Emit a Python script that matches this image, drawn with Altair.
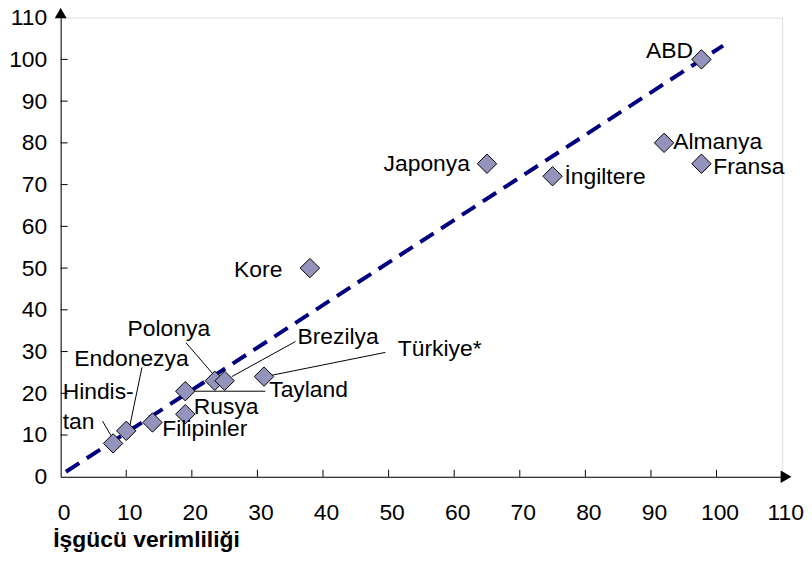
import altair as alt
import pandas as pd

# ---- data ----
countries = ["Hindistan", "Endonezya", "Filipinler", "Rusya", "Tayland", "Polonya",
             "Brezilya", "Türkiye*", "Kore", "Japonya", "İngiltere", "Almanya",
             "Fransa", "ABD"]
productivity = [8, 10, 14, 19, 19, 23.5, 25, 31, 38, 65, 75, 92, 97.7, 97.7]
income = [8, 11, 13, 15, 20.5, 23, 23, 24, 50, 75, 72, 80, 75, 100]

# trend line (dashed) end points
trend_x = [0.8, 101]
trend_y = [1.2, 103.3]

# labels (annotation anchors in data units)
label_text = ["ABD", "Almanya", "Fransa", "Japonya", "İngiltere", "Kore", "Polonya",
              "Brezilya", "Türkiye*", "Tayland", "Rusya", "Filipinler", "Endonezya",
              "Hindis-", "tan"]
label_x = [96.4, 93.4, 99.5, 62.4, 76.8, 33.8, 16.5, 36.1, 51.4, 31.8, 20.3, 15.5, 10.8, 0.3, 0.3]
label_y = [102.0, 80.3, 74.3, 74.9, 71.8, 49.6, 35.4, 33.5, 30.5, 20.7, 16.8, 11.4, 28.1, 20.4, 13.2]
label_align = ["right", "left", "left", "right", "left", "right", "center", "left", "left",
               "left", "left", "left", "center", "left", "left"]

# leader lines
leader_x1 = [6.4, 12.4, 19.1, 26.1, 32.1, 20.3]
leader_y1 = [13.3, 26.2, 32.1, 24.0, 24.3, 20.5]
leader_x2 = [7.7, 10.5, 23.3, 35.8, 49.5, 31.2]
leader_y2 = [9.8, 11.9, 24.5, 32.4, 29.8, 20.5]

axis_values = list(range(0, 111, 10))
tick_values = list(range(10, 101, 10))
x_title = "İşgücü verimliliği"

# ---- layout ----
W, H = 726, 462
FONT = "Liberation Sans"
FS = 23
TICK_PX = 7

xs = alt.Scale(domain=[0, 110], nice=False, zero=True)
ys = alt.Scale(domain=[0, 110], nice=False, zero=True)

x_axis = alt.Axis(values=axis_values, grid=False, ticks=False, domainColor="black",
                  domainWidth=1, labelFont=FONT, labelFontSize=FS, labelColor="black",
                  labelPadding=25, labelOffset=3, labelFlush=False, labelOverlap=False,
                  title=x_title, titleFont=FONT, titleFontSize=FS, titleFontWeight="bold",
                  titleColor="black", titleAnchor="start", titleAlign="left",
                  titleBaseline="middle", titleX=-8, titleY=63)
y_axis = alt.Axis(values=axis_values, grid=False, ticks=False, domainColor="black",
                  domainWidth=1, labelFont=FONT, labelFontSize=FS, labelColor="black",
                  labelPadding=14, labelFlush=False, labelOverlap=False, title=None)

X = alt.X("x:Q", scale=xs, axis=x_axis)
Y = alt.Y("y:Q", scale=ys, axis=y_axis)

pts = pd.DataFrame({"x": productivity, "y": income, "country": countries})
trend = pd.DataFrame({"x": trend_x, "y": trend_y})
labels = pd.DataFrame({"x": label_x, "y": label_y, "text": label_text, "align": label_align})
leaders = pd.DataFrame({"x": leader_x1, "y": leader_y1, "x2": leader_x2, "y2": leader_y2})

dx_tick = TICK_PX / W * 110
dy_tick = TICK_PX / H * 110
yticks = pd.DataFrame({"x": [0] * len(tick_values), "x2": [dx_tick] * len(tick_values), "y": tick_values})
xticks = pd.DataFrame({"x": tick_values, "y": [0] * len(tick_values), "y2": [dy_tick] * len(tick_values)})

arrows_up = pd.DataFrame({"x": [0], "y": [111.1]})
arrows_right = pd.DataFrame({"x": [110.6], "y": [0]})

base_axes = alt.Chart(pts).mark_point(opacity=0).encode(x=X, y=Y)

ytick_layer = alt.Chart(yticks).mark_rule(color="black", strokeWidth=1).encode(
    x=X, x2="x2:Q", y=Y)
xtick_layer = alt.Chart(xticks).mark_rule(color="black", strokeWidth=1).encode(
    x=X, y=Y, y2="y2:Q")

arrow_up = alt.Chart(arrows_up).mark_point(shape="triangle-up", filled=True, color="black",
                                           size=144, opacity=1, clip=False).encode(x=X, y=Y)
arrow_right = alt.Chart(arrows_right).mark_point(shape="triangle-right", filled=True,
                                                 color="black", size=160, opacity=1,
                                                 clip=False).encode(x=X, y=Y)

trend_layer = alt.Chart(trend).mark_line(color="#000080", strokeWidth=4,
                                         strokeDash=[16, 9]).encode(x=X, y=Y)

leader_layer = alt.Chart(leaders).mark_rule(color="black", strokeWidth=1).encode(
    x=X, y=Y, x2="x2:Q", y2="y2:Q")

point_layer = alt.Chart(pts).mark_point(shape="diamond", filled=True, fill="#9393BC",
                                        stroke="black", strokeWidth=1, size=380,
                                        opacity=1).encode(x=X, y=Y)

text_layers = []
for a in ["left", "right", "center"]:
    text_layers.append(
        alt.Chart(labels).transform_filter(alt.datum.align == a).mark_text(
            align=a, baseline="middle", font=FONT, fontSize=FS, color="black"
        ).encode(x=X, y=Y, text="text:N")
    )

chart = alt.layer(base_axes, ytick_layer, xtick_layer, trend_layer, leader_layer,
                  point_layer, arrow_up, arrow_right, *text_layers).properties(
    width=W, height=H,
    autosize=alt.AutoSizeParams(type="none"),
    padding={"left": 53, "top": 8, "right": 22, "bottom": 77},
).configure_view(stroke=None).configure(background="white")

chart.save("out.html", embed_options={"renderer": "svg", "actions": False})
